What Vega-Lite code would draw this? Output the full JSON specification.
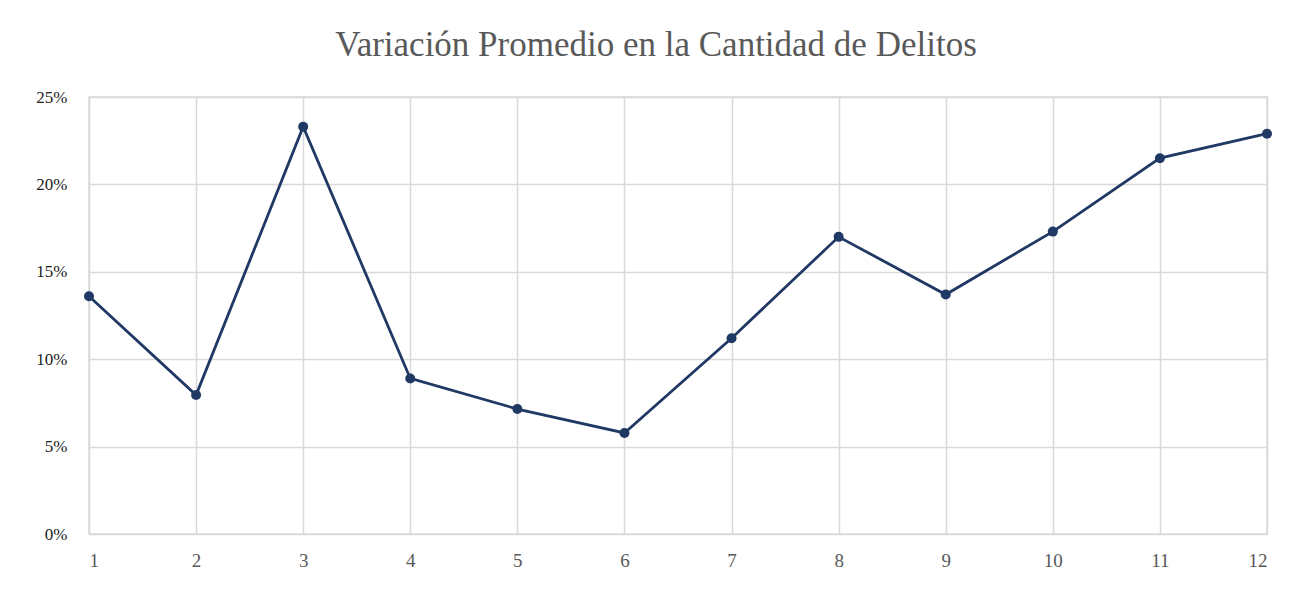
{
  "$schema": "https://vega.github.io/schema/vega-lite/v6.json",
  "width": 1178,
  "height": 437,
  "autosize": {"type": "none"},
  "padding": {"left": 89, "top": 97, "right": 44, "bottom": 59},
  "background": "white",
  "title": {
    "text": "Variación Promedio en la Cantidad de Delitos",
    "font": "Liberation Serif",
    "fontSize": 35,
    "fontWeight": "normal",
    "color": "#595959",
    "anchor": "middle",
    "dx": -22,
    "offset": 25
  },
  "data": {
    "values": [
      {"periodo": 1, "variacion": 0.136},
      {"periodo": 2, "variacion": 0.0795},
      {"periodo": 3, "variacion": 0.233},
      {"periodo": 4, "variacion": 0.089},
      {"periodo": 5, "variacion": 0.0715},
      {"periodo": 6, "variacion": 0.0578},
      {"periodo": 7, "variacion": 0.112},
      {"periodo": 8, "variacion": 0.170},
      {"periodo": 9, "variacion": 0.137},
      {"periodo": 10, "variacion": 0.173},
      {"periodo": 11, "variacion": 0.215},
      {"periodo": 12, "variacion": 0.229}
    ]
  },
  "mark": {"type": "line", "color": "#203864", "strokeWidth": 2.8, "point": {"filled": true, "size": 100, "color": "#203864", "opacity": 1}},
  "encoding": {
    "x": {
      "field": "periodo",
      "type": "quantitative",
      "scale": {"domain": [1, 12], "nice": false, "zero": false},
      "axis": {
        "title": null,
        "values": [1,2,3,4,5,6,7,8,9,10,11,12],
        "format": "d",
        "ticks": false,
        "domain": false,
        "grid": true,
        "gridColor": "#d9d9d9",
        "gridWidth": 1.5,
        "labelFont": "Liberation Serif",
        "labelFontSize": 19,
        "labelColor": "#595959",
        "labelPadding": 17
      }
    },
    "y": {
      "field": "variacion",
      "type": "quantitative",
      "scale": {"domain": [0, 0.25], "nice": false},
      "axis": {
        "title": null,
        "values": [0, 0.05, 0.1, 0.15, 0.2, 0.25],
        "format": ".0%",
        "ticks": false,
        "domain": false,
        "grid": true,
        "gridColor": "#d9d9d9",
        "gridWidth": 1.5,
        "labelFont": "Liberation Serif",
        "labelFontSize": 17,
        "labelColor": "#222222",
        "labelPadding": 22
      }
    }
  },
  "config": {"view": {"stroke": "#d9d9d9", "strokeWidth": 1.5}}
}
